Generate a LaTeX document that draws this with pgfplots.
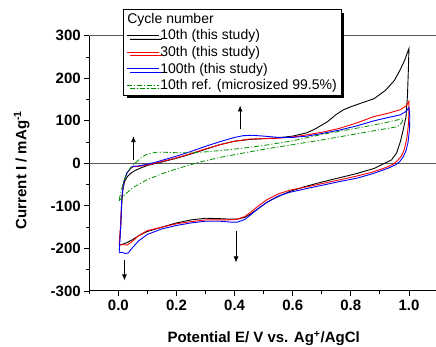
\documentclass[border=0pt]{standalone}
\usepackage{pgfplots}
\pgfplotsset{compat=1.18}
\usepackage{fontspec}
\setmainfont{Liberation Sans}
\usetikzlibrary{shadows,arrows.meta}
\definecolor{refgreen}{RGB}{0,140,0}
\begin{document}
\begin{tikzpicture}
\begin{axis}[
  name=ax,
  width=348.7pt, height=255.3pt, scale only axis,
  xmin=-0.1, xmax=1.1, ymin=-300, ymax=300,
  axis lines=left,
  axis line style={-, line width=1pt},
  xtick={0,0.2,0.4,0.6,0.8,1.0},
  minor xtick={-0.1,0.1,0.3,0.5,0.7,0.9},
  ytick={-300,-200,-100,0,100,200,300},
  minor ytick={-250,-150,-50,50,150,250},
  tick align=outside,
  major tick length=5pt, minor tick length=3pt,
  tick style={line width=0.8pt, black},
  /pgf/number format/assume math mode=true,
  tick label style={font=\fontsize{15}{18}\selectfont\bfseries},
  xticklabel style={/pgf/number format/.cd, fixed, fixed zerofill, precision=1},
  yticklabel style={/pgf/number format/.cd, fixed, precision=0},
  xlabel={Potential E/ V vs. Ag\textsuperscript{+}/AgCl},
  ylabel={Current I / mAg\textsuperscript{-1}},
  label style={font=\fontsize{15}{18}\selectfont\bfseries},
  xlabel style={at={(axis description cs:0.5,-0.2017)}, anchor=base},
  ylabel style={at={(axis description cs:-0.1807,0.474)}, anchor=base, rotate=0},
  legend cell align=left,
  legend image code/.code={\draw[#1] (0pt,0pt) -- (32pt,0pt);},
  legend style={at={(axis description cs:0.0966,1.1046)}, anchor=north west,
    font=\fontsize{14}{16}\selectfont, draw=black, line width=0.6pt,
    fill=white, inner xsep=3pt, inner ysep=2.5pt, row sep=2.6pt,
    nodes={inner sep=1.2pt},
    drop shadow={shadow xshift=3.5pt, shadow yshift=-3.5pt, opacity=1, fill=black}},
]
\draw[gray!70!black, line width=0.9pt] (axis cs:-0.1,0) -- (axis cs:1.1,0);
\draw[gray!70!black, line width=0.9pt] (rel axis cs:0,1) -- (rel axis cs:1,1);

\addlegendimage{empty legend}
\addlegendentry{\hspace*{-33pt}Cycle number}

% 10th (black)
\addplot[black, line width=0.9pt] coordinates {
(0.003,-192)(0.008,-150)(0.012,-90)(0.016,-60)(0.022,-42)(0.03,-32)(0.045,-22)(0.06,-16)(0.08,-10)(0.1,-5)(0.13,0)(0.16,5)(0.2,12)(0.25,22)(0.3,33)(0.35,44)(0.4,52)(0.45,56)(0.5,58)(0.55,60)(0.6,64)(0.65,72)(0.68,82)(0.72,98)(0.75,115)(0.775,126)(0.8,133)(0.85,145)(0.88,152)(0.92,172)(0.95,195)(0.97,220)(0.985,242)(1.0,270)
(0.998,220)(0.995,160)(0.99,110)(0.98,78)(0.97,50)(0.958,25)(0.94,8)(0.91,-2)(0.88,-12)(0.82,-24)(0.76,-34)(0.7,-44)(0.64,-55)(0.59,-66)(0.55,-78)(0.51,-92)(0.48,-107)(0.455,-119)(0.435,-127)(0.41,-131)(0.38,-131)(0.35,-130)(0.3,-129)(0.25,-133)(0.2,-140)(0.15,-150)(0.1,-160)(0.07,-170)(0.05,-179)(0.03,-186)(0.015,-190)(0.003,-192)
};
\addlegendentry{10th (this study)}

% 30th (red)
\addplot[red, line width=0.9pt] coordinates {
(0.003,-192)(0.008,-140)(0.012,-80)(0.018,-45)(0.03,-22)(0.045,-10)(0.052,-8)(0.07,-7)(0.1,-4)(0.13,1)(0.16,6)(0.2,13)(0.25,23)(0.3,34)(0.35,44)(0.4,52)(0.45,57)(0.5,58)(0.55,59)(0.6,62)(0.65,67)(0.7,73)(0.76,82)(0.82,95)(0.88,110)(0.93,118)(0.97,126)(0.99,135)(1.0,146)
(1.0,120)(0.998,90)(0.993,60)(0.985,35)(0.975,18)(0.96,6)(0.946,-2)(0.92,-10)(0.877,-20)(0.82,-30)(0.76,-39)(0.705,-47)(0.65,-55)(0.59,-63)(0.55,-72)(0.51,-86)(0.48,-101)(0.455,-115)(0.435,-125)(0.41,-131)(0.38,-133)(0.35,-133)(0.3,-133)(0.25,-137)(0.2,-142)(0.15,-150)(0.1,-158)(0.07,-170)(0.045,-185)(0.03,-192)(0.015,-191)(0.003,-192)
};
\addlegendentry{30th (this study)}

% 100th (blue)
\addplot[blue, line width=0.9pt] coordinates {
(0.003,-208)(0.008,-150)(0.012,-80)(0.018,-45)(0.03,-22)(0.045,-9)(0.052,-7)(0.07,-6)(0.1,-2)(0.13,3)(0.16,9)(0.2,17)(0.25,28)(0.3,40)(0.35,51)(0.4,61)(0.43,65)(0.46,66)(0.5,64)(0.55,61)(0.6,61)(0.65,64)(0.7,70)(0.76,78)(0.82,88)(0.88,100)(0.93,108)(0.97,114)(0.99,122)(1.0,131)
(1.003,110)(1.002,80)(0.997,50)(0.99,30)(0.98,15)(0.968,4)(0.955,-3)(0.93,-11)(0.877,-24)(0.82,-35)(0.76,-43)(0.705,-51)(0.65,-59)(0.59,-68)(0.55,-77)(0.51,-92)(0.48,-107)(0.455,-121)(0.435,-132)(0.41,-138)(0.385,-138)(0.35,-136)(0.3,-136)(0.25,-140)(0.2,-146)(0.15,-154)(0.1,-167)(0.07,-182)(0.05,-197)(0.035,-210)(0.025,-212)(0.012,-209)(0.003,-210)
};
\addlegendentry{100th (this study)}

% 10th ref (green dash-dot)
\addplot[refgreen, line width=0.8pt, dash pattern=on 5pt off 2pt on 1.2pt off 2pt] coordinates {
(0.003,-85)(0.008,-70)(0.015,-50)(0.025,-30)(0.04,-12)(0.06,2)(0.08,14)(0.1,22)(0.13,26)(0.16,26)(0.2,25)(0.25,25)(0.3,27)(0.35,30)(0.42,35)(0.5,42)(0.6,53)(0.7,68)(0.8,80)(0.9,93)(0.98,105)
(0.975,95)(0.96,86)(0.9,79)(0.8,67)(0.7,55)(0.6,44)(0.5,33)(0.42,23)(0.35,14)(0.28,3)(0.2,-13)(0.16,-22)(0.1,-38)(0.05,-57)(0.02,-75)(0.003,-88)
};
\addlegendentry{10th ref. (microsized 99.5\%)}

\draw[-{Latex[length=6pt,width=5pt]}, line width=0.8pt] (axis cs:0.052,8) -- (axis cs:0.052,64);
\draw[-{Latex[length=6pt,width=5pt]}, line width=0.8pt] (axis cs:0.419,80) -- (axis cs:0.419,136);
\draw[-{Latex[length=6pt,width=5pt]}, line width=0.8pt] (axis cs:0.021,-226) -- (axis cs:0.021,-275);
\draw[-{Latex[length=6pt,width=5pt]}, line width=0.8pt] (axis cs:0.405,-158) -- (axis cs:0.405,-233);
\end{axis}
\pgfresetboundingbox
\path[use as bounding box] ([xshift=-89.3pt,yshift=-56pt]ax.south west) rectangle ([xshift=346.7pt,yshift=35.7pt]ax.north west);
\end{tikzpicture}
\end{document}
